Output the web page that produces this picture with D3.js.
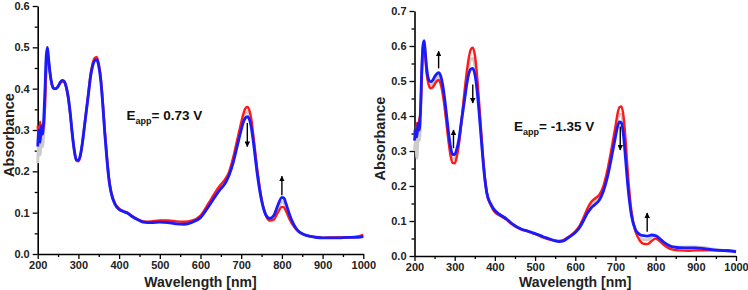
<!DOCTYPE html>
<html><head><meta charset="utf-8">
<script src="https://cdn.jsdelivr.net/npm/d3@7"></script>
<style>
body{margin:0;background:#fff;}
svg text{font-family:"Liberation Sans",Arial,sans-serif;font-weight:bold;}
</style></head>
<body><svg id="c" width="748" height="290"></svg>
<script>
// ---------- data ----------
const xTicks = [200,300,400,500,600,700,800,900,1000];
const leftYTicks = [0.0,0.1,0.2,0.3,0.4,0.5,0.6];
const rightYTicks = [0.0,0.1,0.2,0.3,0.4,0.5,0.6,0.7];

const L_wl = [200,203,206,209,212,215,218,221,224,227,230,235,240,245,250,255,260,265,270,275,280,285,290,295,300,305,310,315,320,325,330,335,340,345,350,355,360,365,370,375,380,390,400,410,420,430,440,450,460,470,480,500,520,540,560,580,600,620,640,650,660,670,680,690,700,705,710,715,720,725,730,740,750,760,770,780,790,800,805,810,820,830,840,850,860,880,900,920,940,960,980,1000];
const L_red = [0.31,0.28,0.32,0.29,0.30,0.31,0.36,0.45,0.485,0.465,0.44,0.41,0.40,0.40,0.405,0.413,0.418,0.416,0.403,0.378,0.338,0.29,0.25,0.226,0.224,0.238,0.27,0.31,0.352,0.393,0.435,0.46,0.474,0.477,0.46,0.425,0.365,0.295,0.235,0.185,0.153,0.122,0.11,0.104,0.1,0.093,0.087,0.082,0.079,0.078,0.079,0.081,0.081,0.079,0.078,0.081,0.093,0.123,0.155,0.168,0.18,0.198,0.232,0.275,0.318,0.338,0.352,0.356,0.348,0.325,0.285,0.2,0.133,0.095,0.081,0.083,0.1,0.114,0.113,0.104,0.082,0.066,0.055,0.049,0.045,0.041,0.039,0.04,0.04,0.04,0.041,0.046];
const L_gray = [0.22,0.27,0.24,0.29,0.26,0.30,0.37,0.46,0.49,0.465,0.44,0.41,0.40,0.40,0.405,0.414,0.419,0.417,0.404,0.379,0.339,0.29,0.25,0.227,0.226,0.239,0.27,0.31,0.351,0.391,0.432,0.457,0.471,0.474,0.457,0.422,0.362,0.292,0.232,0.182,0.151,0.121,0.109,0.103,0.1,0.092,0.086,0.081,0.078,0.077,0.077,0.079,0.079,0.076,0.075,0.079,0.09,0.12,0.152,0.165,0.176,0.194,0.226,0.268,0.309,0.328,0.34,0.344,0.337,0.315,0.278,0.195,0.131,0.095,0.083,0.088,0.109,0.126,0.124,0.113,0.087,0.068,0.055,0.049,0.045,0.041,0.04,0.04,0.04,0.04,0.041,0.044];
const L_blue = [0.26,0.30,0.27,0.31,0.29,0.33,0.40,0.48,0.50,0.47,0.44,0.41,0.40,0.40,0.405,0.415,0.42,0.418,0.405,0.38,0.34,0.29,0.25,0.228,0.227,0.24,0.27,0.31,0.35,0.39,0.43,0.455,0.468,0.47,0.455,0.42,0.36,0.29,0.23,0.18,0.15,0.12,0.108,0.103,0.099,0.092,0.086,0.081,0.077,0.076,0.076,0.077,0.076,0.073,0.072,0.077,0.088,0.115,0.145,0.158,0.17,0.19,0.22,0.26,0.30,0.318,0.329,0.332,0.326,0.305,0.27,0.19,0.13,0.096,0.086,0.093,0.118,0.137,0.135,0.122,0.092,0.07,0.056,0.049,0.045,0.041,0.039,0.039,0.039,0.04,0.04,0.042];

const R_wl = [200,203,206,209,212,215,218,221,224,227,230,235,240,245,250,255,260,265,270,275,280,285,290,295,300,305,310,315,320,325,330,335,340,345,350,355,360,365,370,375,380,390,400,410,420,430,440,450,460,470,480,490,500,510,520,530,540,550,560,570,580,590,600,610,620,630,640,650,660,670,680,690,700,705,710,715,720,725,730,740,750,760,770,780,790,800,810,820,830,840,850,860,880,900,920,940,960,980,1000];
const R_red = [0.36,0.34,0.38,0.36,0.39,0.41,0.51,0.59,0.61,0.57,0.525,0.49,0.479,0.482,0.49,0.499,0.503,0.492,0.465,0.425,0.375,0.325,0.285,0.266,0.265,0.282,0.315,0.365,0.42,0.475,0.525,0.565,0.59,0.595,0.575,0.525,0.45,0.37,0.29,0.225,0.18,0.145,0.125,0.117,0.11,0.103,0.093,0.085,0.079,0.074,0.071,0.067,0.063,0.058,0.053,0.049,0.046,0.044,0.043,0.045,0.052,0.06,0.07,0.085,0.108,0.135,0.155,0.165,0.175,0.2,0.245,0.305,0.37,0.405,0.425,0.427,0.4,0.335,0.25,0.125,0.07,0.045,0.035,0.034,0.043,0.05,0.043,0.032,0.024,0.019,0.017,0.016,0.015,0.016,0.016,0.016,0.016,0.016,0.014];
const R_gray = [0.30,0.33,0.28,0.34,0.33,0.39,0.52,0.595,0.612,0.575,0.53,0.497,0.488,0.492,0.5,0.509,0.513,0.503,0.477,0.437,0.387,0.337,0.297,0.278,0.277,0.293,0.322,0.367,0.415,0.462,0.507,0.542,0.562,0.565,0.547,0.502,0.435,0.36,0.285,0.222,0.18,0.147,0.128,0.119,0.112,0.104,0.094,0.086,0.08,0.075,0.072,0.068,0.064,0.059,0.054,0.05,0.047,0.044,0.042,0.044,0.051,0.059,0.069,0.083,0.104,0.129,0.147,0.157,0.168,0.193,0.235,0.293,0.355,0.387,0.404,0.404,0.372,0.308,0.23,0.12,0.072,0.054,0.047,0.046,0.055,0.06,0.05,0.038,0.03,0.026,0.025,0.025,0.026,0.026,0.024,0.02,0.017,0.015,0.013];
const R_blue = [0.33,0.36,0.34,0.38,0.36,0.42,0.53,0.60,0.615,0.58,0.54,0.505,0.498,0.502,0.512,0.52,0.524,0.515,0.49,0.45,0.40,0.35,0.31,0.29,0.29,0.305,0.33,0.37,0.41,0.45,0.49,0.52,0.534,0.536,0.52,0.48,0.42,0.35,0.28,0.22,0.18,0.148,0.13,0.12,0.113,0.105,0.095,0.087,0.08,0.075,0.072,0.068,0.064,0.06,0.055,0.051,0.047,0.043,0.041,0.043,0.05,0.058,0.067,0.08,0.1,0.122,0.138,0.148,0.16,0.185,0.225,0.28,0.34,0.368,0.383,0.38,0.345,0.28,0.21,0.115,0.075,0.062,0.058,0.057,0.06,0.058,0.05,0.04,0.032,0.027,0.025,0.024,0.023,0.023,0.021,0.018,0.016,0.015,0.012];

// arrows: [wavelength, from absorbance, to absorbance]
const L_arrows = [[715,0.317,0.26],[800,0.142,0.188]];
const R_arrows = [[260,0.536,0.585],[345,0.49,0.437],[297,0.308,0.36],[712,0.37,0.303],[779,0.069,0.123]];

const L_label = "0.73 V";
const R_label = "-1.35 V";

// ---------- drawing ----------
const svg = d3.select("#c");
const defs = svg.append("defs");
defs.append("marker").attr("id","ah").attr("viewBox","0 0 10 10").attr("refX",9).attr("refY",5)
  .attr("markerWidth",6).attr("markerHeight",5.5).attr("markerUnits","userSpaceOnUse").attr("orient","auto")
  .append("path").attr("d","M0,0L10,5L0,10Z").attr("fill","#000");

function panel(cfg){
  const x = d3.scaleLinear().domain([200,1000]).range([cfg.x0,cfg.x1]);
  const y = d3.scaleLinear().domain([0,cfg.ymax]).range([cfg.y0,cfg.y1]);
  const g = svg.append("g");

  // minor ticks
  const xMinor = d3.range(250,1000,100);
  g.append("g").attr("transform",`translate(0,${cfg.y0})`)
    .call(d3.axisBottom(x).tickValues(xMinor).tickSize(3).tickFormat("").tickSizeOuter(0))
    .call(s=>{s.select(".domain").remove(); s.selectAll("line").attr("stroke-width",1.3);});
  const yMinor = d3.range(0.05,cfg.ymax,0.1);
  g.append("g").attr("transform",`translate(${cfg.x0},0)`)
    .call(d3.axisLeft(y).tickValues(yMinor).tickSize(3).tickFormat("").tickSizeOuter(0))
    .call(s=>{s.select(".domain").remove(); s.selectAll("line").attr("stroke-width",1.3);});

  const xa = g.append("g").attr("transform",`translate(0,${cfg.y0})`)
    .call(d3.axisBottom(x).tickValues(xTicks).tickFormat(d3.format("d")).tickSize(5).tickSizeOuter(0).tickPadding(2));
  const ya = g.append("g").attr("transform",`translate(${cfg.x0},0)`)
    .call(d3.axisLeft(y).tickValues(cfg.yTicks).tickFormat(d3.format(".1f")).tickSize(5).tickSizeOuter(0).tickPadding(3));
  [xa,ya].forEach(a=>{
    a.select(".domain").attr("stroke-width",1.6);
    a.selectAll("line").attr("stroke-width",1.3);
    a.selectAll("text").attr("font-size",11).attr("fill","#222");
  });

  const line = d3.line().x((d,i)=>x(cfg.wl[i])).y(d=>y(d)).curve(d3.curveMonotoneX);
  g.append("path").datum(cfg.gray).attr("d",line).attr("fill","none").attr("stroke","#cccccc").attr("stroke-width",3);
  g.append("path").datum(cfg.red).attr("d",line).attr("fill","none").attr("stroke","#ff1a1a").attr("stroke-width",2.4);
  g.append("path").datum(cfg.blue).attr("d",line).attr("fill","none").attr("stroke","#1a1aff").attr("stroke-width",2.8);

  cfg.arrows.forEach(a=>{
    g.append("line").attr("x1",x(a[0])).attr("x2",x(a[0])).attr("y1",y(a[1])).attr("y2",y(a[2]))
      .attr("stroke","#000").attr("stroke-width",1.4).attr("marker-end","url(#ah)");
  });

  g.append("text").attr("x",(cfg.x0+cfg.x1)/2).attr("y",287).attr("text-anchor","middle")
    .attr("font-size",14).attr("fill","#222").text("Wavelength [nm]");
  g.append("text").attr("transform",`translate(${cfg.ylabX},${(cfg.y0+cfg.y1)/2+5}) rotate(-90)`)
    .attr("text-anchor","middle").attr("font-size",14.5).attr("fill","#222").text("Absorbance");

  const t = g.append("text").attr("x",cfg.tx).attr("y",cfg.ty).attr("font-size",13.5).attr("fill","#111");
  t.append("tspan").text("E");
  t.append("tspan").attr("font-size",9).attr("dy",4).text("app");
  t.append("tspan").attr("dy",-4).text("= "+cfg.label);
}

panel({x0:37.7,x1:363.3,y0:254,y1:6,ymax:0.6,yTicks:leftYTicks,wl:L_wl,red:L_red,gray:L_gray,blue:L_blue,
  arrows:L_arrows,label:L_label,tx:126.5,ty:120,ylabX:14});
panel({x0:414.5,x1:736,y0:256,y1:11,ymax:0.7,yTicks:rightYTicks,wl:R_wl,red:R_red,gray:R_gray,blue:R_blue,
  arrows:R_arrows,label:R_label,tx:514,ty:131,ylabX:385});
</script></body></html>
